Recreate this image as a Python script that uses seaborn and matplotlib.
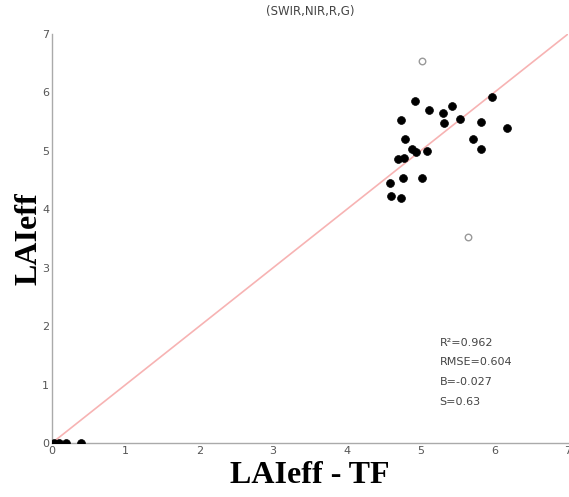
import seaborn as sns
import matplotlib.pyplot as plt
import pandas as pd

# LAIeff - TF (x) vs LAIeff (y), filled = used points
obs_x = [4.92, 5.11, 5.30, 5.43, 5.97, 4.74, 5.32, 5.54, 5.82, 6.17,
         4.79, 5.71, 4.88, 4.94, 5.09, 5.82, 4.70, 4.78, 4.76, 5.02,
         4.59, 4.60, 4.73, 0.03, 0.09, 0.19, 0.40]
obs_y = [5.86, 5.70, 5.64, 5.77, 5.92, 5.53, 5.47, 5.55, 5.50, 5.39,
         5.20, 5.21, 5.03, 4.98, 4.99, 5.03, 4.86, 4.87, 4.53, 4.53,
         4.45, 4.23, 4.20, 0.0, 0.0, 0.0, 0.0]

# outliers (open circles)
out_x = [5.02, 5.65]
out_y = [6.54, 3.53]

# 1:1 line
line_x = [0, 7]
line_y = [0, 7]

stats = ['R\u00b2=0.962', 'RMSE=0.604', 'B=-0.027', 'S=0.63']

df = pd.DataFrame({'x': obs_x, 'y': obs_y})
df_out = pd.DataFrame({'x': out_x, 'y': out_y})
df_line = pd.DataFrame({'x': line_x, 'y': line_y})

sns.set_style('white')
fig = plt.figure(figsize=(5.69, 4.97), dpi=100)
ax = fig.add_axes([52 / 569, 54 / 497, 516 / 569, 409 / 497])

sns.lineplot(x='x', y='y', data=df_line, ax=ax, color='#f7b3b3', linewidth=1.2)
sns.scatterplot(x='x', y='y', data=df, ax=ax, color='black', s=32,
                edgecolor='black', linewidth=0.5, zorder=3)
sns.scatterplot(x='x', y='y', data=df_out, ax=ax, facecolor='white', s=22,
                edgecolor='#999999', linewidth=1.0, zorder=3)

ax.set_xlim(0, 7)
ax.set_ylim(0, 7)
ax.set_xticks(range(8))
ax.set_yticks(range(8))
ax.tick_params(direction='in', length=3, width=0.8, colors='#999999',
               labelcolor='#555555', labelsize=8, pad=2)
for side in ['top', 'right']:
    ax.spines[side].set_visible(False)
for side in ['left', 'bottom']:
    ax.spines[side].set_color('#aaaaaa')
    ax.spines[side].set_linewidth(1.0)

ax.set_title('(SWIR,NIR,R,G)', fontsize=8.5, color='#444444', pad=14)
ax.set_xlabel('LAIeff - TF', fontsize=23, fontweight='bold',
              family='Liberation Serif', color='black', labelpad=4)
ax.set_ylabel('LAIeff', fontsize=23, fontweight='bold',
              family='Liberation Serif', color='black', labelpad=-1)

for i, t in enumerate(stats):
    ax.text(5.26, 1.72 - i * 0.34, t, fontsize=8, color='#444444', va='center')

fig.savefig('out.png', dpi=100)
